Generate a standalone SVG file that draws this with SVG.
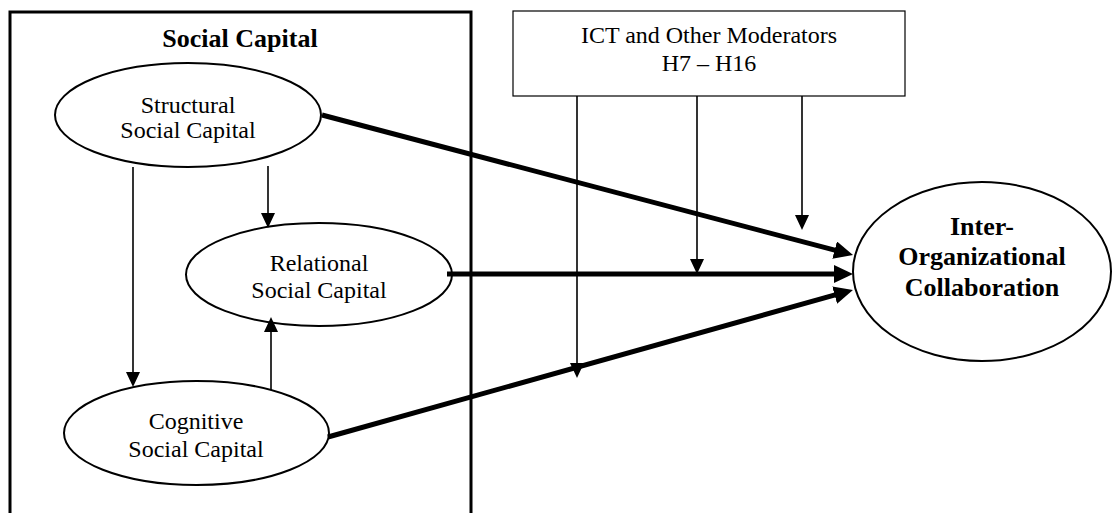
<svg xmlns="http://www.w3.org/2000/svg" width="1112" height="513" viewBox="0 0 1112 513">
  <defs>
    <style>
      .frame { fill: none; stroke: #000; stroke-width: 3; }
      .box { fill: #fff; stroke: #000; stroke-width: 1.2; }
      .node { fill: #fff; stroke: #000; stroke-width: 2; }
      .lbl { font-family: "Liberation Serif", "Times New Roman", serif; font-size: 24px; fill: #000; text-anchor: middle; }
      .bold { font-family: "Liberation Serif", "Times New Roman", serif; font-size: 26px; font-weight: bold; fill: #000; text-anchor: middle; }
      .thin { fill: none; stroke: #000; stroke-width: 1.6; }
      .thick { fill: none; stroke: #000; stroke-width: 5; }
    </style>
    <marker id="headThin" markerUnits="userSpaceOnUse" markerWidth="15" markerHeight="14" viewBox="0 0 15 14" refX="11" refY="7" orient="auto">
      <path d="M0,0 L15,7 L0,14 z" fill="#000"/>
    </marker>
    <marker id="headThick" markerUnits="userSpaceOnUse" markerWidth="19" markerHeight="18" viewBox="0 0 19 18" refX="7" refY="9" orient="auto">
      <path d="M0,0 L19,9 L0,18 z" fill="#000"/>
    </marker>
  </defs>

  <rect width="1112" height="513" fill="#fff"/>

  <!-- Social Capital frame (open at the bottom) -->
  <g id="social-capital">
    <path class="frame" d="M10,520 V12 H471 V520"/>
    <text class="bold" x="240" y="47">Social Capital</text>
  </g>

  <!-- Moderator box -->
  <g id="moderators">
    <rect class="box" x="513" y="11" width="392" height="85"/>
    <text class="lbl" x="709" y="43">ICT and Other Moderators</text>
    <text class="lbl" x="709" y="71">H7 – H16</text>
  </g>

  <g id="structural">
    <ellipse class="node" cx="188" cy="115" rx="133" ry="52"/>
    <text class="lbl" x="188" y="113">Structural</text>
    <text class="lbl" x="188" y="138">Social Capital</text>
  </g>

  <g id="relational">
    <ellipse class="node" cx="319" cy="274.5" rx="133" ry="51.5"/>
    <text class="lbl" x="319" y="271">Relational</text>
    <text class="lbl" x="319" y="298">Social Capital</text>
  </g>

  <g id="cognitive">
    <ellipse class="node" cx="196.5" cy="433" rx="132.5" ry="52"/>
    <text class="lbl" x="196" y="429">Cognitive</text>
    <text class="lbl" x="196" y="457">Social Capital</text>
  </g>

  <g id="collaboration">
    <ellipse class="node" cx="982" cy="271.5" rx="129" ry="89.5"/>
    <text class="bold" x="982" y="235">Inter-</text>
    <text class="bold" x="982" y="265">Organizational</text>
    <text class="bold" x="982" y="296">Collaboration</text>
  </g>

  <g id="connectors">
    <!-- paths among the social capital dimensions -->
    <line class="thin" x1="133" y1="167" x2="133" y2="383" marker-end="url(#headThin)"/>
    <line class="thin" x1="268" y1="166" x2="268" y2="224" marker-end="url(#headThin)"/>
    <line class="thin" x1="271" y1="390" x2="271" y2="321" marker-end="url(#headThin)"/>

    <!-- main effects on collaboration -->
    <line class="thick" x1="322" y1="115" x2="841.4" y2="251.9" marker-end="url(#headThick)"/>
    <line class="thick" x1="447" y1="274" x2="841" y2="274" marker-end="url(#headThick)"/>
    <line class="thick" x1="328" y1="437" x2="841.4" y2="293.2" marker-end="url(#headThick)"/>

    <!-- moderating effects -->
    <line class="thin" x1="577" y1="96" x2="577" y2="374" marker-end="url(#headThin)"/>
    <line class="thin" x1="697" y1="96" x2="697" y2="270" marker-end="url(#headThin)"/>
    <line class="thin" x1="802" y1="96" x2="802" y2="226" marker-end="url(#headThin)"/>
  </g>
</svg>
